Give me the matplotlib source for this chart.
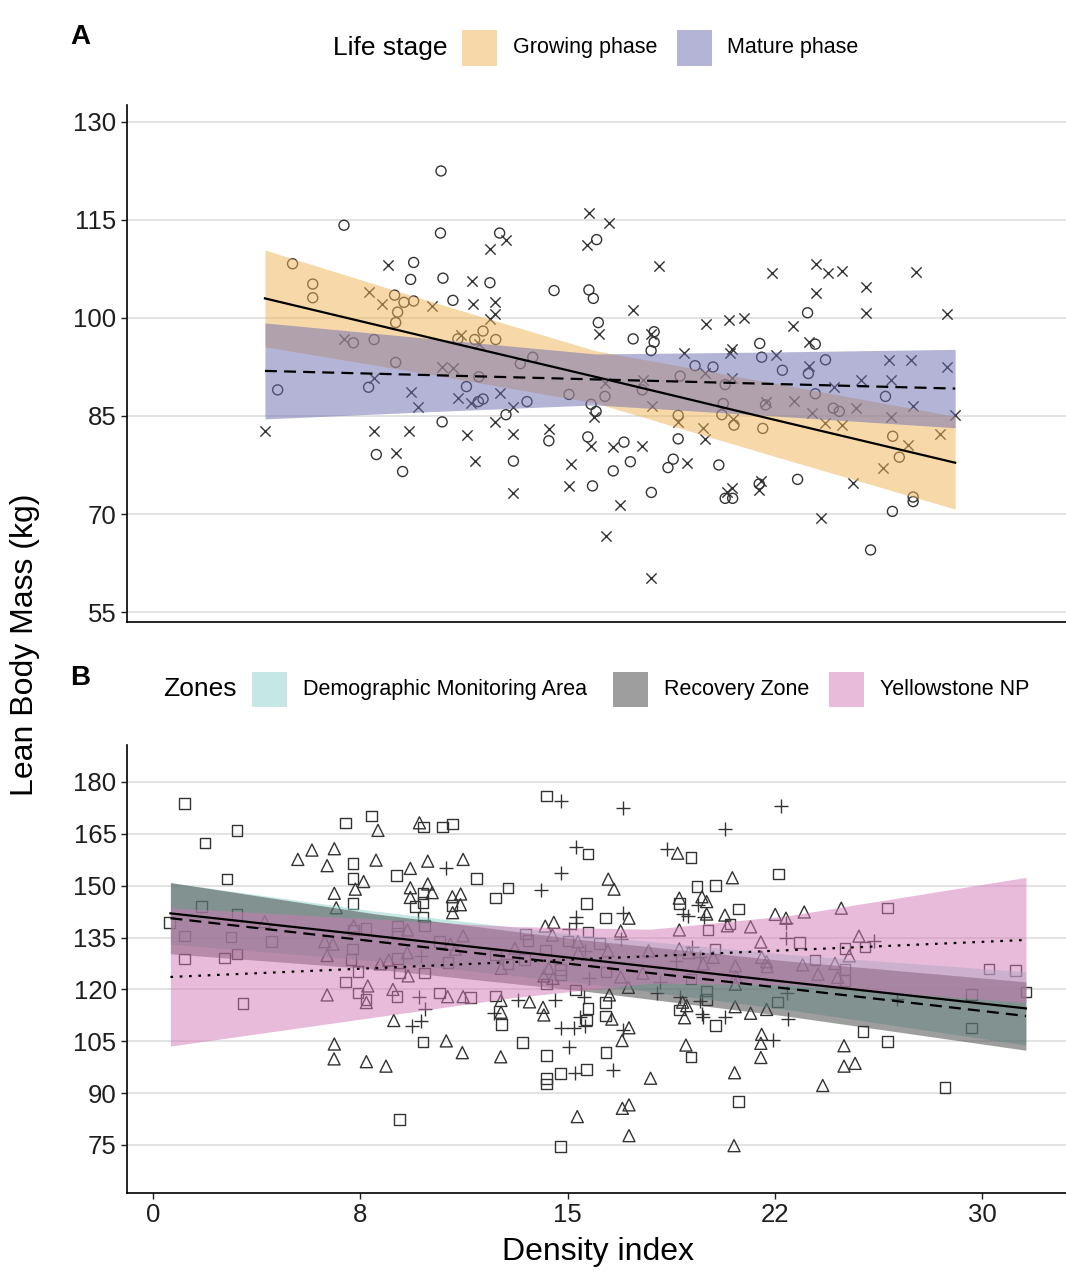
import matplotlib
matplotlib.use("Agg")
import matplotlib.pyplot as plt
from matplotlib.patches import Rectangle

plt.rcParams["font.family"] = ["Liberation Sans", "DejaVu Sans"]

# ---- Panel A: life stage ----
grow_x = [10.42, 6.91, 10.4, 12.54, 16.05, 5.05, 9.43, 9.32, 10.49, 12.19, 5.78, 5.78, 8.74, 9.08,
          9.43, 10.85, 8.85, 8.78, 14.51, 15.77, 15.93, 7.25, 8.0, 11.03, 11.94, 11.64, 12.4, 13.74,
          13.29, 8.78, 11.79, 11.34, 7.8, 4.51, 11.77, 11.94, 13.53, 15.05, 12.77, 10.46, 14.32, 15.73,
          8.08, 9.03, 13.04, 15.9, 15.85, 16.11, 17.37, 18.13, 18.13, 18.02, 19.61, 20.26, 23.68, 21.95,
          22.02, 22.77, 23.96, 23.71, 24.33, 19.07, 17.7, 16.35, 16.03, 19.0, 19.0, 20.7, 20.63, 20.58,
          21.02, 22.06, 22.16, 23.96, 24.61, 24.83, 26.5, 26.76, 27.0, 27.5, 27.5, 26.75, 25.96, 23.32,
          21.93, 20.7, 20.97, 20.47, 18.82, 18.63, 18.03, 17.27, 17.04, 16.65]
grow_y = [122.5, 114.2, 113.0, 113.0, 112.0, 108.3, 108.5, 105.9, 106.1, 105.4, 105.2, 103.1, 103.5, 102.4,
          102.6, 102.7, 100.9, 99.3, 104.2, 104.3, 103.0, 96.2, 96.7, 96.8, 98.0, 96.7, 96.7, 94.0,
          93.0, 93.2, 91.0, 89.5, 89.4, 89.0, 87.2, 87.6, 87.2, 88.3, 85.2, 84.1, 81.2, 81.8,
          79.1, 76.5, 78.1, 74.3, 86.8, 99.3, 96.8, 97.9, 96.3, 95.0, 92.7, 92.5, 100.8, 96.1,
          94.0, 92.0, 96.0, 91.5, 93.6, 91.1, 89.0, 88.0, 85.7, 85.1, 81.5, 89.8, 86.9, 85.2,
          83.6, 83.1, 86.7, 88.4, 86.2, 85.7, 88.0, 81.9, 78.7, 72.6, 71.9, 70.4, 64.5, 75.3,
          74.6, 72.4, 72.4, 77.5, 78.4, 77.1, 73.3, 78.0, 81.0, 76.6]

mature_x = [15.76, 12.78, 12.18, 15.7, 8.5, 11.54, 7.81, 8.29, 10.1, 11.59, 12.39, 12.36, 12.2, 6.91,
            11.15, 11.78, 10.46, 10.84, 8.0, 9.33, 12.54, 11.05, 11.52, 9.59, 13.04, 12.36, 4.05, 8.0,
            9.25, 11.35, 13.04, 14.32, 15.83, 8.78, 11.64, 15.11, 15.05, 13.04, 15.94, 16.51, 18.3, 16.15,
            17.37, 18.02, 19.21, 19.96, 20.0, 20.83, 21.39, 22.41, 23.98, 24.41, 24.92, 23.98, 23.14, 25.8,
            25.81, 27.59, 28.71, 22.54, 23.74, 23.74, 20.94, 20.88, 20.94, 17.74, 16.35, 18.05, 19.0, 20.99,
            22.16, 23.19, 24.65, 23.85, 24.32, 24.94, 25.42, 25.61, 26.63, 27.42, 26.7, 27.5, 26.7, 28.71,
            29.02, 28.47, 27.33, 26.41, 25.33, 24.18, 21.98, 21.93, 20.94, 20.76, 19.9, 19.98, 19.31, 18.02,
            17.7, 16.65, 16.9, 16.39]
mature_y = [116.1, 112.0, 110.6, 111.1, 108.1, 105.6, 104.0, 102.1, 101.8, 102.1, 102.5, 100.6, 99.9, 96.8,
            97.4, 96.0, 92.5, 92.3, 90.8, 88.6, 88.5, 87.7, 87.0, 86.4, 86.4, 84.1, 82.7, 82.7,
            82.7, 82.1, 82.3, 83.0, 80.4, 79.4, 78.1, 77.7, 74.3, 73.2, 84.9, 114.5, 108.0, 97.5,
            101.2, 97.6, 94.6, 91.6, 99.1, 99.7, 100.0, 106.9, 108.2, 106.9, 107.2, 103.9, 98.8, 104.7,
            100.8, 107.0, 100.6, 94.3, 96.3, 92.7, 95.2, 94.6, 90.8, 90.5, 90.1, 86.6, 84.1, 84.5,
            87.1, 87.3, 89.4, 85.4, 84.0, 83.6, 86.3, 90.5, 93.5, 93.6, 90.5, 86.5, 84.9, 92.5,
            85.2, 82.3, 80.5, 77.0, 74.8, 69.4, 75.0, 73.6, 74.0, 73.4, 83.1, 81.5, 77.8, 60.2,
            80.4, 80.3, 71.4, 66.7]

# fitted lines and confidence bands
grow_fit_x = [4.05, 10, 16, 22.5, 29.02]
grow_fit = [103.0, 97.0, 91.0, 84.4, 77.85]
grow_lo = [95.6, 91.4, 87.0, 78.8, 70.75]
grow_hi = [110.4, 102.6, 95.0, 90.0, 84.95]
mature_fit_x = [4.05, 10, 16, 22.5, 29.02]
mature_fit = [91.9, 91.26, 90.6, 89.9, 89.2]
mature_lo = [84.55, 85.66, 86.7, 85.0, 83.2]
mature_hi = [99.25, 96.86, 94.5, 94.8, 95.2]

# ---- Panel B: zones ----
dma_x = [1.13, 3.04, 1.88, 2.68, 1.76, 3.04, 0.6, 1.13, 2.82, 4.28, 3.04, 2.58, 1.13, 3.26, 6.97, 7.91,
         9.79, 10.47, 10.84, 7.24, 11.71, 8.8, 7.24, 7.24, 9.77, 9.48, 9.77, 9.77, 9.83, 10.82, 12.4, 12.84,
         15.68, 14.23, 15.74, 15.74, 13.47, 13.57, 15.01, 10.37, 8.85, 7.71, 7.26, 8.85, 7.22, 7.16, 8.85,
         10.67, 7.41, 8.92, 9.82, 6.97, 7.41, 7.71, 8.83, 10.37, 11.48, 12.39, 15.74, 15.68, 12.6, 13.36,
         9.77, 14.23, 14.23, 14.23, 14.74, 15.68, 8.92, 14.74, 13.45, 12.84, 12.39, 14.19, 14.74, 14.74,
         14.23, 15.29, 19.46, 22.62, 19.68, 20.34, 19.04, 21.19, 16.38, 20.88, 20.08, 26.57, 23.38, 25.76,
         25.04, 16.15, 20.33, 23.95, 25.04, 25.04, 16.39, 19.46, 20.03, 20.05, 22.6, 16.38, 16.38, 19.04,
         20.34, 25.68, 26.57, 29.62, 29.62, 30.25, 31.2, 31.58, 19.46, 28.65, 16.39, 21.18]
dma_y = [173.7, 166.0, 162.4, 151.9, 144.0, 141.6, 139.4, 135.5, 135.2, 133.8, 130.2, 129.1, 128.8, 116.0,
         168.1, 170.1, 167.0, 167.0, 167.9, 156.5, 152.1, 152.9, 152.1, 144.9, 147.8, 143.9, 145.1, 141.0,
         138.5, 144.2, 146.4, 149.3, 144.8, 175.9, 159.2, 136.6, 136.0, 134.2, 134.0, 133.8, 138.4, 137.6,
         137.2, 136.2, 131.7, 128.7, 128.9, 127.7, 125.1, 124.7, 124.7, 122.2, 118.9, 117.1, 117.9, 118.9,
         117.7, 118.1, 114.5, 111.2, 109.9, 104.6, 104.8, 100.9, 94.3, 92.6, 95.7, 96.9, 82.4, 74.5,
         128.7, 127.4, 130.0, 131.4, 125.8, 124.2, 121.6, 119.8, 158.2, 153.4, 149.7, 150.0, 144.9, 143.3,
         140.7, 138.9, 137.2, 143.6, 133.6, 132.3, 131.9, 133.3, 131.7, 128.5, 125.8, 122.5, 125.0, 123.0,
         119.5, 117.1, 116.3, 116.2, 112.3, 114.0, 109.5, 107.8, 104.9, 108.8, 118.6, 125.9, 125.4, 119.2,
         100.4, 91.7, 101.7, 87.5]

rz_x = [4.04, 8.14, 9.64, 5.24, 5.75, 6.56, 6.3, 8.07, 9.31, 9.94, 11.22, 7.62, 7.32, 6.56, 6.63, 9.31,
        9.31, 9.94, 10.1, 10.83, 11.13, 11.12, 10.84, 14.19, 14.5, 14.45, 15.37, 11.22, 9.21, 7.26, 6.21,
        6.51, 6.3, 9.2, 8.22, 8.53, 9.23, 7.77, 6.3, 7.72, 8.68, 10.66, 11.22, 12.59, 13.62, 12.59, 14.11,
        14.14, 8.71, 10.61, 11.19, 12.58, 6.56, 6.55, 7.72, 8.43, 15.35, 13.09, 12.6, 14.32, 14.47, 14.14,
        15.39, 10.94, 10.76, 18.98, 16.47, 16.68, 20.96, 19.86, 19.04, 20.03, 17.22, 20.03, 20.69, 20.78,
        21.62, 19.04, 22.51, 22.9, 23.56, 24.9, 21.99, 25.54, 25.19, 16.92, 16.46, 17.93, 19.04, 19.38,
        20.27, 22.02, 22.2, 24.67, 24.77, 24.06, 23.5, 19.91, 21.07, 22.22, 17.72, 16.92, 21.09, 21.07,
        17.2, 19.16, 16.51, 16.6, 19.31, 19.23, 21.06, 21.62, 22.2, 17.22, 16.97, 22.02, 21.99, 19.28,
        21.99, 25.0, 25.0, 25.4, 24.23, 18.0, 21.04, 16.98, 17.22, 17.22, 21.02]
rz_y = [139.6, 166.0, 168.2, 157.6, 160.3, 160.7, 155.8, 157.4, 155.0, 157.1, 157.6, 151.2, 149.0, 147.8,
        143.6, 149.4, 146.6, 150.5, 148.0, 146.8, 147.6, 144.5, 142.2, 138.3, 139.4, 135.7, 133.8, 135.5,
        137.2, 138.4, 133.8, 133.1, 129.8, 130.6, 127.4, 128.5, 123.9, 121.0, 118.4, 116.2, 120.0, 117.9,
        117.9, 116.8, 116.4, 113.4, 114.8, 112.6, 111.0, 105.1, 101.7, 100.5, 104.2, 99.9, 99.1, 97.8,
        83.2, 131.9, 126.1, 126.1, 123.2, 123.9, 130.6, 131.6, 133.1, 159.4, 151.9, 149.0, 152.3, 146.8,
        146.4, 145.4, 140.6, 141.8, 141.5, 138.4, 138.1, 137.2, 141.7, 140.6, 142.4, 143.5, 133.7, 135.4,
        129.7, 136.9, 131.2, 131.2, 131.7, 130.6, 129.3, 129.3, 128.0, 127.5, 123.5, 124.4, 127.1, 127.4,
        126.8, 126.6, 124.7, 123.6, 123.7, 121.5, 120.6, 116.3, 118.4, 111.4, 115.3, 111.8, 115.0, 113.1,
        114.2, 108.9, 105.2, 107.0, 104.4, 103.9, 100.3, 103.7, 97.8, 98.6, 92.2, 94.3, 95.9, 85.6,
        86.6, 77.7, 74.8]

ynp_x = [10.61, 14.05, 14.76, 15.31, 14.76, 15.31, 15.31, 15.05, 9.7, 9.61, 9.83, 13.21, 14.56, 12.33,
         15.6, 15.44, 15.64, 14.76, 15.22, 15.05, 9.37, 9.7, 15.28, 15.76, 15.64, 17.02, 22.71, 20.71,
         18.61, 19.73, 17.02, 19.19, 19.35, 19.94, 22.9, 22.9, 26.1, 16.92, 19.49, 19.79, 18.92, 18.34,
         18.22, 19.07, 19.79, 22.92, 26.93, 19.85, 19.91, 20.69, 22.99, 17.0, 22.42, 16.63]
ynp_y = [155.0, 148.8, 174.5, 161.3, 153.6, 141.0, 139.1, 137.4, 129.8, 117.9, 114.2, 116.8, 116.8, 113.1,
         117.9, 112.1, 109.5, 108.8, 108.8, 103.4, 109.5, 110.9, 95.9, 123.2, 131.1, 172.4, 173.0, 166.3,
         160.5, 144.4, 142.2, 141.8, 141.2, 141.0, 139.3, 134.8, 134.0, 134.7, 132.4, 129.5, 128.2, 122.2,
         118.9, 117.9, 116.5, 118.9, 117.1, 112.9, 112.1, 112.1, 111.4, 108.2, 105.4, 96.7]

# fitted lines and confidence bands
dma_fit_x = [0.63, 8, 15.5, 23, 31.58]
dma_fit = [142.0, 135.5, 128.8, 122.1, 114.5]
dma_lo = [133.1, 128.3, 121.9, 114.1, 103.9]
dma_hi = [150.9, 142.7, 135.7, 130.1, 125.1]
rz_fit_x = [0.63, 8, 15.5, 23, 31.58]
rz_fit = [140.6, 133.9, 127.0, 120.2, 112.3]
rz_lo = [130.3, 125.9, 119.6, 112.2, 102.4]
rz_hi = [150.9, 141.9, 134.4, 128.2, 122.2]
ynp_fit_x = [0.63, 8, 13, 18, 23, 31.58]
ynp_fit = [123.6, 126.15, 127.9, 129.6, 131.35, 134.3]
ynp_lo = [103.6, 111.95, 117.6, 121.8, 121.35, 116.2]
ynp_hi = [143.6, 140.35, 138.2, 137.4, 141.35, 152.4]

a_yticks = [55, 70, 85, 100, 115, 130]
b_yticks = [75, 90, 105, 120, 135, 150, 165, 180]
x_ticks = [0, 7.5, 15, 22.5, 30]
x_ticklabels = ["0", "8", "15", "22", "30"]

C_GROW = "#F0B455"
C_MATURE = "#6A6AB0"
C_DMA = "#8FD3CD"
C_RZ = "#3E3E3E"
C_YNP = "#D279B8"
PT = "#333333"

W, H = 1066, 1274
fig = plt.figure(figsize=(W / 100, H / 100), dpi=100)


def fx(px):
    return px / W


def fy(py):
    return 1 - py / H


def style_axes(ax, yticks):
    for s in ["top", "right"]:
        ax.spines[s].set_visible(False)
    for s in ["left", "bottom"]:
        ax.spines[s].set_color("black")
        ax.spines[s].set_linewidth(1.2)
    ax.set_yticks(yticks)
    ax.yaxis.grid(True, color="#dedede", linewidth=1.2)
    ax.set_axisbelow(True)
    ax.tick_params(axis="y", labelsize=18.5, colors="#1e1e1e", length=4, width=1)
    ax.set_xlim(-0.94, 33.03)


axA = fig.add_axes([fx(127), fy(622), fx(1066 - 127), (622 - 105) / H])
style_axes(axA, a_yticks)
axA.set_ylim(53.47, 132.6)
axA.set_xticks([])

axA.scatter(grow_x, grow_y, marker="o", s=52, facecolors="none", edgecolors=PT, linewidths=1.0, zorder=3)
axA.scatter(mature_x, mature_y, marker="x", s=55, color=PT, linewidths=1.0, zorder=3)
axA.fill_between(grow_fit_x, grow_lo, grow_hi, color=C_GROW, alpha=0.5, linewidth=0, zorder=4)
axA.fill_between(mature_fit_x, mature_lo, mature_hi, color=C_MATURE, alpha=0.5, linewidth=0, zorder=4)
axA.plot(grow_fit_x, grow_fit, color="black", linewidth=1.6, zorder=5)
axA.plot(mature_fit_x, mature_fit, color="black", linewidth=1.6, linestyle=(0, (5.4, 3.2)), zorder=5)

axB = fig.add_axes([fx(127), fy(1193), fx(1066 - 127), (1193 - 745) / H])
style_axes(axB, b_yticks)
axB.set_ylim(61.1, 190.7)
axB.set_xticks(x_ticks)
axB.set_xticklabels(x_ticklabels)
axB.tick_params(axis="x", labelsize=18.5, colors="#1e1e1e", length=4, width=1)

axB.scatter(dma_x, dma_y, marker="s", s=58, facecolors="none", edgecolors=PT, linewidths=1.0, zorder=3)
axB.scatter(rz_x, rz_y, marker="^", s=75, facecolors="none", edgecolors=PT, linewidths=1.0, zorder=3)
axB.scatter(ynp_x, ynp_y, marker="+", s=95, color=PT, linewidths=1.0, zorder=3)
axB.fill_between(dma_fit_x, dma_lo, dma_hi, color=C_DMA, alpha=0.5, linewidth=0, zorder=4)
axB.fill_between(rz_fit_x, rz_lo, rz_hi, color=C_RZ, alpha=0.5, linewidth=0, zorder=4)
axB.fill_between(ynp_fit_x, ynp_lo, ynp_hi, color=C_YNP, alpha=0.5, linewidth=0, zorder=4)
axB.plot(dma_fit_x, dma_fit, color="black", linewidth=1.6, zorder=5)
axB.plot(rz_fit_x, rz_fit, color="black", linewidth=1.6, linestyle=(0, (5.4, 3.2)), zorder=5)
axB.plot(ynp_fit_x, ynp_fit, color="black", linewidth=1.6, linestyle=(0, (1.2, 3.0)), zorder=5)

# panel tags
fig.text(fx(70), fy(37), "A", fontsize=20, fontweight="bold", va="center", ha="left")
fig.text(fx(70), fy(678), "B", fontsize=20, fontweight="bold", va="center", ha="left")

# axis titles
fig.text(fx(25), fy(645), "Lean Body Mass (kg)", fontsize=23, rotation=90, va="center", ha="center")
fig.text(fx(598), fy(1252), "Density index", fontsize=23, va="center", ha="center")


def legend_row(title, title_x, y_c, items):
    fig.text(fx(title_x), fy(y_c), title, fontsize=19, va="center", ha="left")
    for key_x, text_x, label, col in items:
        fig.add_artist(Rectangle((fx(key_x), fy(y_c + 17.5)), 35 / W, 35 / H,
                                 transform=fig.transFigure, facecolor=col, alpha=0.5,
                                 edgecolor="none"))
        fig.text(fx(text_x), fy(y_c), label, fontsize=15.5, va="center", ha="left")


legend_row("Life stage", 333, 48, [(462, 513, "Growing phase", C_GROW),
                                   (677, 727, "Mature phase", C_MATURE)])
legend_row("Zones", 163, 689, [(252, 303, "Demographic Monitoring Area", C_DMA),
                               (613, 664, "Recovery Zone", C_RZ),
                               (829, 880, "Yellowstone NP", C_YNP)])

fig.savefig("out.png", dpi=100, facecolor="white")
